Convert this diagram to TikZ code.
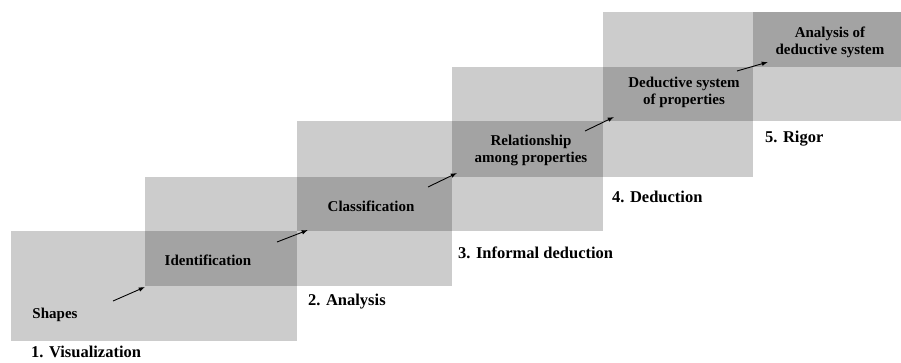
\documentclass[tikz,border=0pt]{standalone}
\usepackage{fontspec}
\setmainfont{Liberation Serif}
\usepackage{tikz}
\usetikzlibrary{arrows.meta, positioning}

\begin{document}
\begin{tikzpicture}[
    x=1pt, y=-1pt,
    level/.style={fill=black, fill opacity=0.2},
    inner/.style={font=\bfseries\fontsize{15}{17}\selectfont, align=center, inner sep=0pt},
    stage/.style={font=\bfseries\fontsize{16.5}{18}\selectfont, anchor=west, inner sep=0pt},
    arrow/.style={-{Latex[length=2.2mm, width=1.6mm]}, line width=0.9pt, draw=black},
]
\useasboundingbox (0,0) rectangle (901,362);

% stair boxes
\fill[level] (11,231) rectangle (297,341);
\fill[level] (145,177) rectangle (452,286);
\fill[level] (297,121) rectangle (603,231);
\fill[level] (452,67) rectangle (753,177);
\fill[level] (603,12) rectangle (901,121);
\fill[level] (753,12) rectangle (901,67);

% contents
\node[inner] (shapes) at (55,315) {Shapes};
\node[inner] (ident) at (208,260) {Identification};
\node[inner] (classif) at (371,206) {Classification};
\node[inner] (relat) at (531,150) {Relationship\\among properties};
\node[inner] (deduct) at (684,92) {Deductive system\\of properties};
\node[inner] (analys) at (830,42) {Analysis of\\deductive system};

% stage names
\node[stage] (vis) at (31,352) {1. Visualization};
\node[stage] (ana) at (308,302) {2. Analysis};
\node[stage] (inf) at (458,253) {3. Informal deduction};
\node[stage] (ded) at (612,197) {4. Deduction};
\node[stage] (rig) at (765,139) {5. Rigor};

% arrow ends
\coordinate (a1s) at (113,301);
\coordinate (a1e) at (145,287);
\coordinate (a2s) at (277,242);
\coordinate (a2e) at (308,230);
\coordinate (a3s) at (428,187);
\coordinate (a3e) at (457,173);
\coordinate (a4s) at (585,131);
\coordinate (a4e) at (614,117);
\coordinate (a5s) at (737,71);
\coordinate (a5e) at (768,62);

\draw[arrow] (a1s) -- (a1e);
\draw[arrow] (a2s) -- (a2e);
\draw[arrow] (a3s) -- (a3e);
\draw[arrow] (a4s) -- (a4e);
\draw[arrow] (a5s) -- (a5e);
\end{tikzpicture}
\end{document}
